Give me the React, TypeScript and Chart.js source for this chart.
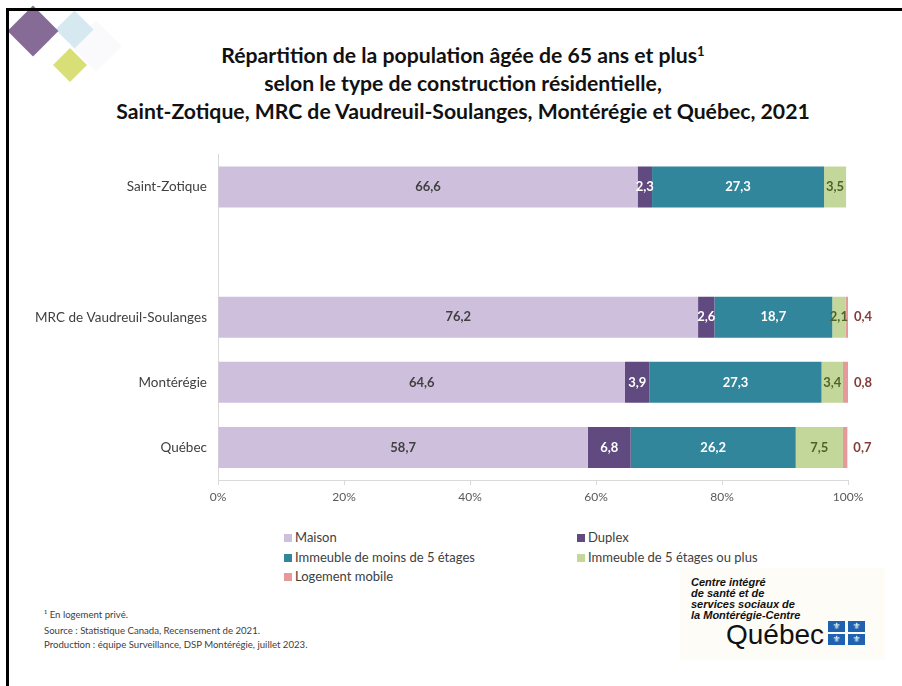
import React, { useEffect, useRef } from "react";
import { Chart, registerables } from "chart.js";

Chart.register(...registerables);

const categories = ["Saint-Zotique", "", "MRC de Vaudreuil-Soulanges", "Montérégie", "Québec"];
const maison = [66.6, null, 76.2, 64.6, 58.7];
const duplex = [2.3, null, 2.6, 3.9, 6.8];
const immeubleMoins5 = [27.3, null, 18.7, 27.3, 26.2];
const immeuble5Plus = [3.5, null, 2.1, 3.4, 7.5];
const logementMobile = [null, null, 0.4, 0.8, 0.7];
const seriesNames = [
  "Maison",
  "Duplex",
  "Immeuble de moins de 5 étages",
  "Immeuble de 5 étages ou plus",
  "Logement mobile",
];
const seriesValues = [maison, duplex, immeubleMoins5, immeuble5Plus, logementMobile];
const seriesColors = ["#CEC0DD", "#604A7F", "#31869B", "#C4D79B", "#E6999A"];
const labelColors = ["#404040", "#FFFFFF", "#FFFFFF", "#4F6228", "#843C39"];
const xTickValues = [0, 20, 40, 60, 80, 100];
const titleLines = [
  "Répartition de la population âgée de 65 ans et plus",
  "selon le type de construction résidentielle,",
  "Saint-Zotique, MRC de Vaudreuil-Soulanges, Montérégie et Québec, 2021",
];
const footnotes = [
  "¹ En logement privé.",
  "Source : Statistique Canada, Recensement de 2021.",
  "Production : équipe Surveillance, DSP Montérégie, juillet 2023.",
];
const logoLines = ["Centre intégré", "de santé et de", "services sociaux de", "la Montérégie-Centre"];

const FONT = "Lato, 'Open Sans', sans-serif";

const fmt = (v: number) => v.toFixed(1).replace(".", ",");

const dataLabelPlugin = {
  id: "dataLabels",
  afterDatasetsDraw(chart: any) {
    const ctx = chart.ctx;
    ctx.save();
    ctx.font = `bold 13px ${FONT}`;
    ctx.textBaseline = "middle";
    chart.data.datasets.forEach((ds: any, di: number) => {
      const meta = chart.getDatasetMeta(di);
      meta.data.forEach((el: any, i: number) => {
        const v = ds.data[i];
        if (v === null || v === undefined) return;
        ctx.fillStyle = labelColors[di];
        if (di === 4) {
          ctx.textAlign = "left";
          ctx.fillText(fmt(v), el.x + 6, el.y);
        } else {
          ctx.textAlign = "center";
          ctx.fillText(fmt(v), (el.x + el.base) / 2, el.y);
        }
      });
    });
    ctx.restore();
  },
};

function ChartCanvas() {
  const ref = useRef<HTMLCanvasElement | null>(null);
  useEffect(() => {
    if (!ref.current) return;
    const chart = new Chart(ref.current, {
      type: "bar",
      data: {
        labels: categories,
        datasets: seriesNames.map((name, i) => ({
          label: name,
          data: seriesValues[i] as any,
          backgroundColor: seriesColors[i],
          borderWidth: 0,
          categoryPercentage: 1,
          barPercentage: 0.63,
        })),
      },
      options: {
        indexAxis: "y",
        animation: false,
        responsive: false,
        maintainAspectRatio: false,
        layout: { padding: { top: 14.5, right: 54, bottom: 0, left: 0 } },
        plugins: { legend: { display: false }, title: { display: false }, tooltip: { enabled: false } },
        scales: {
          x: {
            stacked: true,
            min: 0,
            max: 100,
            afterBuildTicks: (s: any) => {
              s.ticks = xTickValues.map((v) => ({ value: v }));
            },
            afterFit: (s: any) => {
              s.height = 40;
            },
            ticks: {
              callback: (v: any) => v + "%",
              color: "#595959",
              font: { family: FONT, size: 12 },
              padding: 5,
              maxRotation: 0,
            },
            grid: { drawOnChartArea: false, drawTicks: true, tickLength: 5, color: "#D9D9D9" },
            border: { display: true, color: "#D9D9D9" },
          },
          y: {
            stacked: true,
            afterFit: (s: any) => {
              s.width = 218;
              s.paddingTop = 0;
              s.paddingBottom = 0;
            },
            ticks: {
              color: "#404040",
              font: { family: FONT, size: 13.5 },
              padding: 11,
            },
            grid: { display: false, drawTicks: false },
            border: { display: true, color: "#D9D9D9" },
          },
        },
      },
      plugins: [dataLabelPlugin],
    });
    return () => chart.destroy();
  }, []);
  return (
    <canvas
      ref={ref}
      width={902}
      height={380}
      style={{ position: "absolute", left: 0, top: 140, width: 902, height: 380 }}
    />
  );
}

function Diamond({ cx, cy, side, color, z }: { cx: number; cy: number; side: number; color: string; z: number }) {
  return (
    <div
      style={{
        position: "absolute",
        left: cx - side / 2,
        top: cy - side / 2,
        width: side,
        height: side,
        background: color,
        transform: "rotate(45deg)",
        zIndex: z,
      }}
    />
  );
}

export default function App() {
  const textStyle: React.CSSProperties = { position: "absolute", whiteSpace: "nowrap", fontFamily: FONT };
  return (
    <div style={{ position: "absolute", left: 0, top: 0, width: 902, height: 686, background: "#fff", overflow: "hidden" }}>
      <Diamond cx={96} cy={46} side={36} color="#FAFAFC" z={1} />
      <Diamond cx={74} cy={29} side={27} color="#D7E9F0" z={2} />
      <Diamond cx={33} cy={31} side={36} color="#866B96" z={3} />
      <Diamond cx={70} cy={65} side={24} color="#D8DF76" z={3} />
      <div style={{ position: "absolute", left: 6, top: 8, width: 896, height: 3, background: "#000", zIndex: 5 }} />
      <div style={{ position: "absolute", left: 6, top: 8, width: 3, height: 678, background: "#000", zIndex: 5 }} />

      {titleLines.map((t, i) => (
        <div
          key={i}
          style={{
            ...textStyle,
            left: 0,
            width: 926,
            textAlign: "center",
            top: 41 + i * 28,
            fontSize: 21.2,
            lineHeight: "28px",
            fontWeight: 700,
            color: "#111",
          }}
        >
          {t}
          {i === 0 ? <sup style={{ fontSize: 13, verticalAlign: "7px", lineHeight: 0 }}>1</sup> : null}
        </div>
      ))}

      <ChartCanvas />

      {seriesNames.map((name, i) => {
        const col = i % 2;
        const row = Math.floor(i / 2);
        const left = col === 0 ? 284 : 577;
        const cy = 537 + row * 19.5;
        return (
          <div key={name} style={{ ...textStyle, left, top: cy - 9, height: 18, lineHeight: "18px", fontSize: 13, color: "#404040" }}>
            <span
              style={{
                display: "inline-block",
                width: 8,
                height: 8,
                background: seriesColors[i],
                marginRight: 3,
                verticalAlign: "0px",
              }}
            />
            {name}
          </div>
        );
      })}

      {footnotes.map((t, i) => (
        <div key={i} style={{ ...textStyle, left: 44, top: 608 + i * 16 - (i === 2 ? 2 : 0), fontSize: 9.6, lineHeight: "14px", color: "#404040" }}>
          {t}
        </div>
      ))}

      <div style={{ position: "absolute", left: 680, top: 568, width: 205, height: 92, background: "#FDFCF7" }} />
      {logoLines.map((t, i) => (
        <div
          key={i}
          style={{
            ...textStyle,
            fontFamily: "'Liberation Sans', Arial, sans-serif",
            left: 691,
            top: 577 + i * 11,
            fontSize: 11,
            lineHeight: "11px",
            fontWeight: 700,
            fontStyle: "italic",
            color: "#111",
          }}
        >
          {t}
        </div>
      ))}
      <div
        style={{
          ...textStyle,
          fontFamily: "'Liberation Sans', Arial, sans-serif",
          left: 726,
          top: 620,
          fontSize: 28,
          lineHeight: "30px",
          color: "#111",
        }}
      >
        Québec
      </div>
      {[0, 1].map((r) =>
        [0, 1].map((c) => (
          <div
            key={`${r}-${c}`}
            style={{
              position: "absolute",
              left: 828 + c * 20,
              top: 621 + r * 13,
              width: 17,
              height: 11,
              background: "#1F62B0",
              color: "#fff",
              fontSize: 9,
              lineHeight: "11px",
              textAlign: "center",
              fontFamily: "'DejaVu Sans', sans-serif",
            }}
          >
            ⚜
          </div>
        ))
      )}
    </div>
  );
}
